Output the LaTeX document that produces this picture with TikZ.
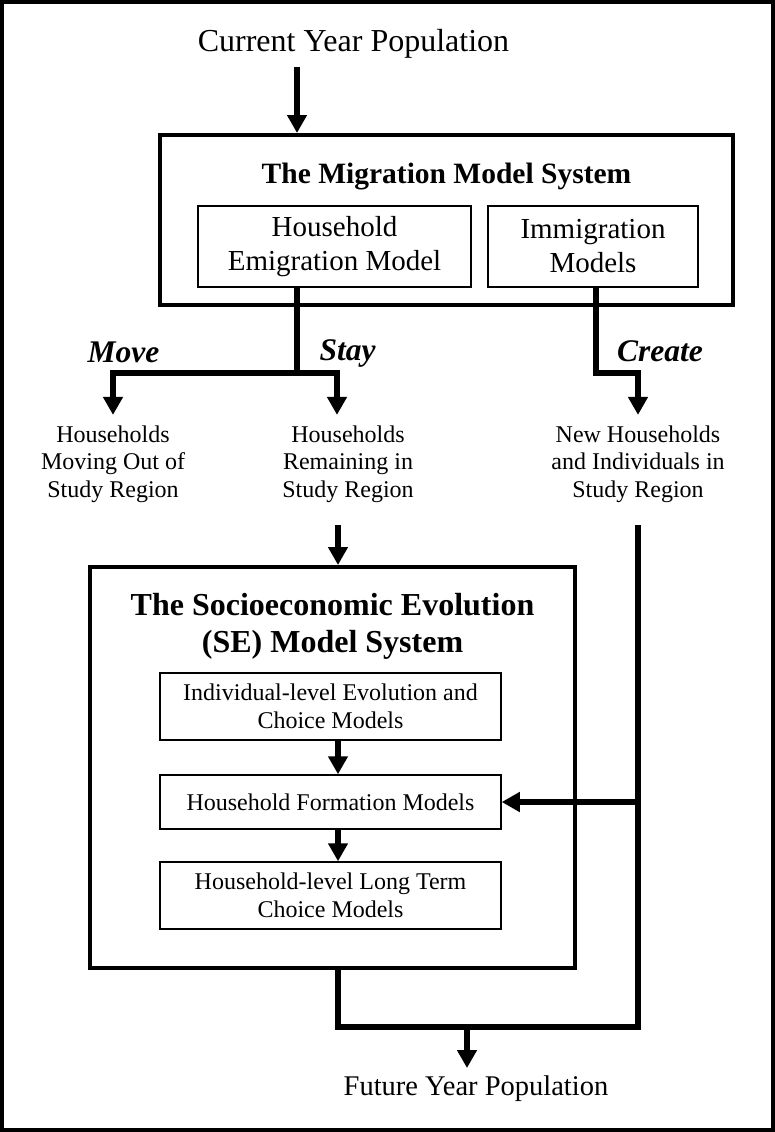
\documentclass[tikz,border=0pt]{standalone}
\usepackage{fontspec}
\setmainfont{Liberation Serif}
\usetikzlibrary{arrows.meta}

\tikzset{
  sysbox/.style={draw, line width=4pt, inner sep=0pt},
  modbox/.style={draw, line width=1.5pt, align=center, inner sep=0pt},
  txt/.style={align=center, inner sep=0pt},
  link/.style={line width=5.5pt},
  flow/.style={link, -{Triangle[width=19pt,length=18pt]}},
  choice/.style={inner sep=0pt, font=\fontsize{31.5}{36}\selectfont\bfseries\itshape},
}

\begin{document}
\begin{tikzpicture}[x=1pt, y=-1pt]

  \useasboundingbox (0,0) rectangle (775,1132);
  \draw[line width=3.5pt] (2,2) rectangle (773,1130);

  % Define nodes
  \node[txt, font=\fontsize{32}{37}\selectfont, anchor=base] (cur) at (353.5,52) {Current Year Population};
  \node[sysbox, minimum width=573pt, minimum height=170pt] (mig) at (446.5,220) {};
  \node[txt, font=\fontsize{29.5}{34}\selectfont\bfseries, anchor=base] (migtitle) at (446.5,183) {The Migration Model System};
  \node[modbox, font=\fontsize{29}{34}\selectfont, minimum width=273pt, minimum height=81pt] (emi) at (334.5,246.5) {Household\\Emigration Model};
  \node[modbox, font=\fontsize{29}{34}\selectfont, minimum width=210pt, minimum height=81pt] (imm) at (593,246.5) {Immigration\\Models};

  \node[choice, anchor=base] (move) at (123.5,362) {Move};
  \node[choice, anchor=base] (stay) at (347.5,360) {Stay};
  \node[choice, anchor=base] (create) at (660,361) {Create};

  \node[txt, font=\fontsize{24}{27.5}\selectfont] (hhmove) at (113,464) {Households\\Moving Out of\\Study Region};
  \node[txt, font=\fontsize{24}{27.5}\selectfont] (hhstay) at (348,464) {Households\\Remaining in\\Study Region};
  \node[txt, font=\fontsize{24}{27.5}\selectfont] (hhnew) at (638,464) {New Households\\and Individuals in\\Study Region};

  \node[sysbox, minimum width=485pt, minimum height=401pt] (se) at (332.5,767.5) {};
  \node[txt, font=\fontsize{32}{37}\selectfont\bfseries] (setitle) at (332.5,626) {The Socioeconomic Evolution\\(SE) Model System};
  \node[modbox, font=\fontsize{24}{28}\selectfont, minimum width=341pt, minimum height=67pt] (indiv) at (330.5,706.5) {Individual-level Evolution and\\Choice Models};
  \node[modbox, font=\fontsize{24}{28}\selectfont, minimum width=341pt, minimum height=54pt] (form) at (330.5,802) {Household Formation Models};
  \node[modbox, font=\fontsize{24}{28}\selectfont, minimum width=341pt, minimum height=67pt] (hhlong) at (330.5,895.5) {Household-level Long Term\\Choice Models};
  \node[txt, font=\fontsize{28.5}{33}\selectfont, anchor=base] (fut) at (476,1095) {Future Year Population};

  % Junction points
  \coordinate (split) at (297,373);
  \coordinate (crbend) at (596,373);
  \coordinate (trunk) at (338,525);
  \coordinate (newtop) at (638,525);
  \coordinate (join) at (638,1027);
  \coordinate (merge) at (467,1027);

  % Connect the nodes
  \draw[flow] ([yshift=-15pt]cur.base -| split) -- (split |- mig.north);
  \draw[flow] (emi.south -| split) -- (split) -| ([yshift=10.5pt]hhmove.north);
  \draw[flow] (split) -| ([xshift=-11pt,yshift=10.5pt]hhstay.north);
  \draw[flow] (imm.south -| crbend) -- (crbend) -| ([yshift=10.5pt]hhnew.north);

  \draw[flow] (trunk) -- (trunk |- se.north);
  \draw[flow] (indiv.south -| trunk) -- (form.north -| trunk);
  \draw[flow] (form.south -| trunk) -- (hhlong.north -| trunk);
  \draw[flow] (newtop |- form.east) -- (form.east);
  \draw[link] (se.south -| trunk) |- (join) -- (newtop);
  \draw[flow] (merge) -- ([yshift=7pt]fut.north -| merge);

\end{tikzpicture}
\end{document}
